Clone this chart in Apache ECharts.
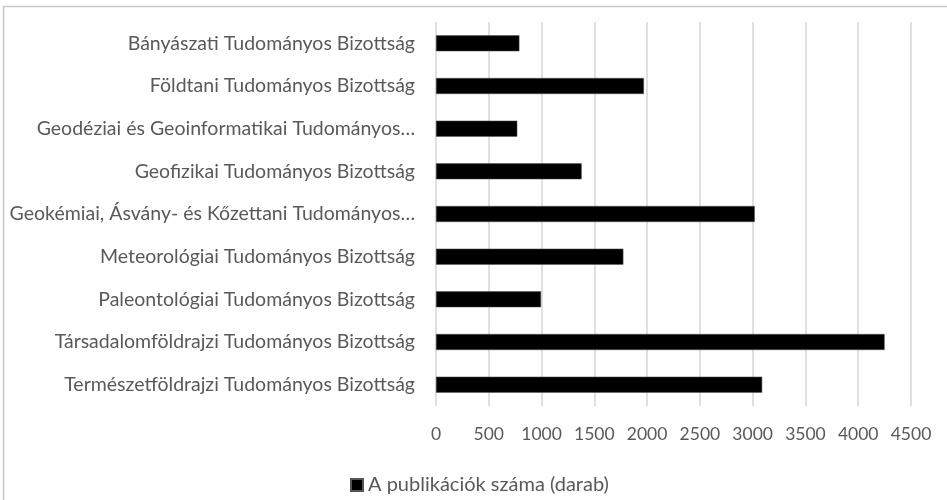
<!DOCTYPE html>
<html>
<head>
<meta charset="utf-8">
<script src="https://cdn.jsdelivr.net/npm/echarts@6/dist/echarts.min.js"></script>
<style>html,body{margin:0;padding:0;background:#fff;}#c{width:947px;height:500px;}</style>
</head>
<body>
<div id="c"></div>
<script>
const categories = [
  "Bányászati Tudományos Bizottság",
  "Földtani Tudományos Bizottság",
  "Geodéziai és Geoinformatikai Tudományos…",
  "Geofizikai Tudományos Bizottság",
  "Geokémiai, Ásvány- és Kőzettani Tudományos…",
  "Meteorológiai Tudományos Bizottság",
  "Paleontológiai Tudományos Bizottság",
  "Társadalomföldrajzi Tudományos Bizottság",
  "Természetföldrajzi Tudományos Bizottság"
];
const values = [790, 1970, 770, 1380, 3020, 1775, 995, 4250, 3090];
const seriesName = "A publikációk száma (darab)";
const xMin = 0, xMax = 4500, xStep = 500;

const FONT = "Lato";
const TXT = "#595959";
const chart = echarts.init(document.getElementById('c'), null, {renderer: 'canvas'});
chart.setOption({
  animation: false,
  backgroundColor: '#fff',
  graphic: [{
    type: 'rect', silent: true,
    shape: {x: 3.5, y: 6.5, width: 1000, height: 600},
    style: {fill: 'none', stroke: '#c8c8c8', lineWidth: 1.5}
  }],
  grid: {left: 436, right: 36, top: 22, bottom: 94, containLabel: false},
  legend: {
    data: [seriesName],
    left: 345, top: 470,
    itemWidth: 12, itemHeight: 12,
    icon: 'rect',
    textStyle: {fontFamily: FONT, fontSize: 20, color: TXT}
  },
  xAxis: {
    type: 'value', min: xMin, max: xMax, interval: xStep,
    axisLine: {show: false}, axisTick: {show: false},
    splitLine: {show: true, lineStyle: {color: '#d6d6d6', width: 1.5}},
    axisLabel: {fontFamily: FONT, fontSize: 17.5, color: TXT, margin: 19,
      formatter: function (v) { return String(v); }}
  },
  yAxis: {
    type: 'category', data: categories, inverse: true,
    axisLine: {show: false}, axisTick: {show: false},
    axisLabel: {fontFamily: FONT, fontSize: 19.5, color: TXT, margin: 21}
  },
  series: [{
    name: seriesName, type: 'bar', data: values,
    barWidth: 16,
    itemStyle: {color: '#000', borderColor: '#555', borderWidth: 0.5}
  }]
});
</script>
</body>
</html>
